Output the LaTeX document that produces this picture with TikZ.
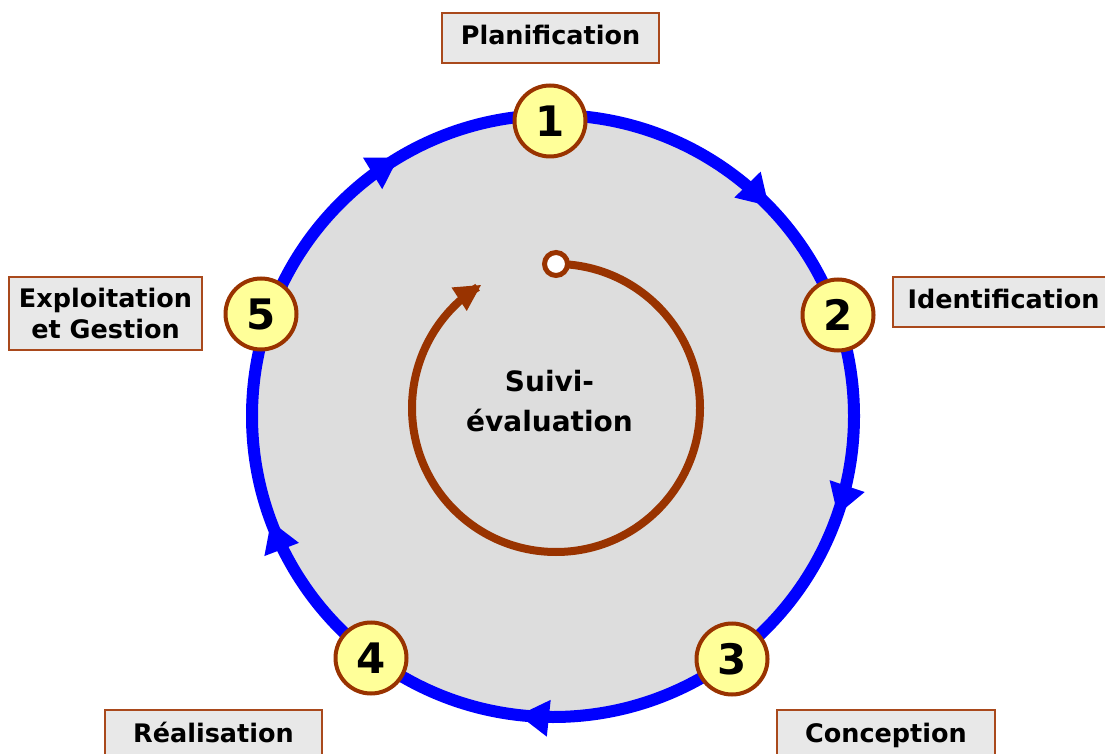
\documentclass[tikz,border=0pt]{standalone}
\usepackage{fontspec}
\setmainfont{DejaVu Sans}
\usetikzlibrary{decorations.markings}
\definecolor{ringblue}{HTML}{0000FF}
\definecolor{rust}{HTML}{993300}
\definecolor{boxedge}{HTML}{A9491C}
\definecolor{boxfill}{HTML}{E8E8E8}
\definecolor{disc}{HTML}{DDDDDD}
\definecolor{numfill}{HTML}{FFFF99}
\begin{document}
\begin{tikzpicture}[x=1pt,y=1pt,
  numnode/.style={circle, draw=rust, fill=numfill, line width=4pt, minimum size=71pt, inner sep=0pt, font=\fontsize{42}{42}\selectfont\bfseries},
  labelbox/.style={draw=boxedge, fill=boxfill, line width=2pt, minimum height=50pt, inner sep=0pt, font=\fontsize{25.5}{31}\selectfont\bfseries, align=center},
  oneline/.style={text height=19pt, text depth=5pt},
  ring/.style={ringblue, line width=12pt, postaction=decorate, decoration={markings,
    mark=at position 0.126 with {\fill[ringblue] (2,0) -- (-28,18.5) -- (-28,-18.5) -- cycle;},
    mark=at position 0.302 with {\fill[ringblue] (2,0) -- (-28,18.5) -- (-28,-18.5) -- cycle;},
    mark=at position 0.517 with {\fill[ringblue] (2,0) -- (-28,18.5) -- (-28,-18.5) -- cycle;},
    mark=at position 0.692 with {\fill[ringblue] (2,0) -- (-28,18.5) -- (-28,-18.5) -- cycle;},
    mark=at position 0.913 with {\fill[ringblue] (2,0) -- (-28,18.5) -- (-28,-18.5) -- cycle;}}},
  loop/.style={rust, line width=8pt, postaction=decorate, decoration={markings,
    mark=at position 1 with {\fill[rust] (4,0) -- (-22,14) -- (-22,-14) -- cycle;}}}]
\useasboundingbox (0,0) rectangle (1105,753);
\coordinate (C) at (553,337);
\coordinate (I) at (556,345);
\fill[disc] (C) circle[radius=301];
\coordinate (ringtop) at (553,638);
\draw[ring] (ringtop) arc[start angle=90, end angle=-270, radius=301];
% inner loop
\coordinate (loopstart) at (556,489);
\draw[loop] (loopstart) arc[start angle=90, end angle=-237, radius=144];
\node[circle, draw=rust, fill=white, line width=5pt, minimum size=23pt, inner sep=0pt] (startdot) at (loopstart) {};
\node[font=\fontsize{28}{40}\selectfont\bfseries, align=center] (suivi) at (549.5,352) {Suivi-\\évaluation};
% numbered stages
\node[numnode] (n1) at (550,632) {1};
\node[numnode] (n2) at (838,438) {2};
\node[numnode] (n3) at (732,94) {3};
\node[numnode] (n4) at (371,95) {4};
\node[numnode] (n5) at (261,439) {5};
% labels
\node[labelbox, oneline, minimum width=217pt] (planif) at (550.5,715) {Planification};
\node[labelbox, oneline, minimum width=221pt] (ident) at (1003.5,451) {Identification};
\node[labelbox, minimum width=193pt, minimum height=73pt] (exploit) at (105.5,439.5) {Exploitation\\et Gestion};
\node[labelbox, oneline, minimum width=217pt] (real) at (213.5,18) {Réalisation};
\node[labelbox, oneline, minimum width=218pt] (concep) at (886,18) {Conception};
\end{tikzpicture}
\end{document}
